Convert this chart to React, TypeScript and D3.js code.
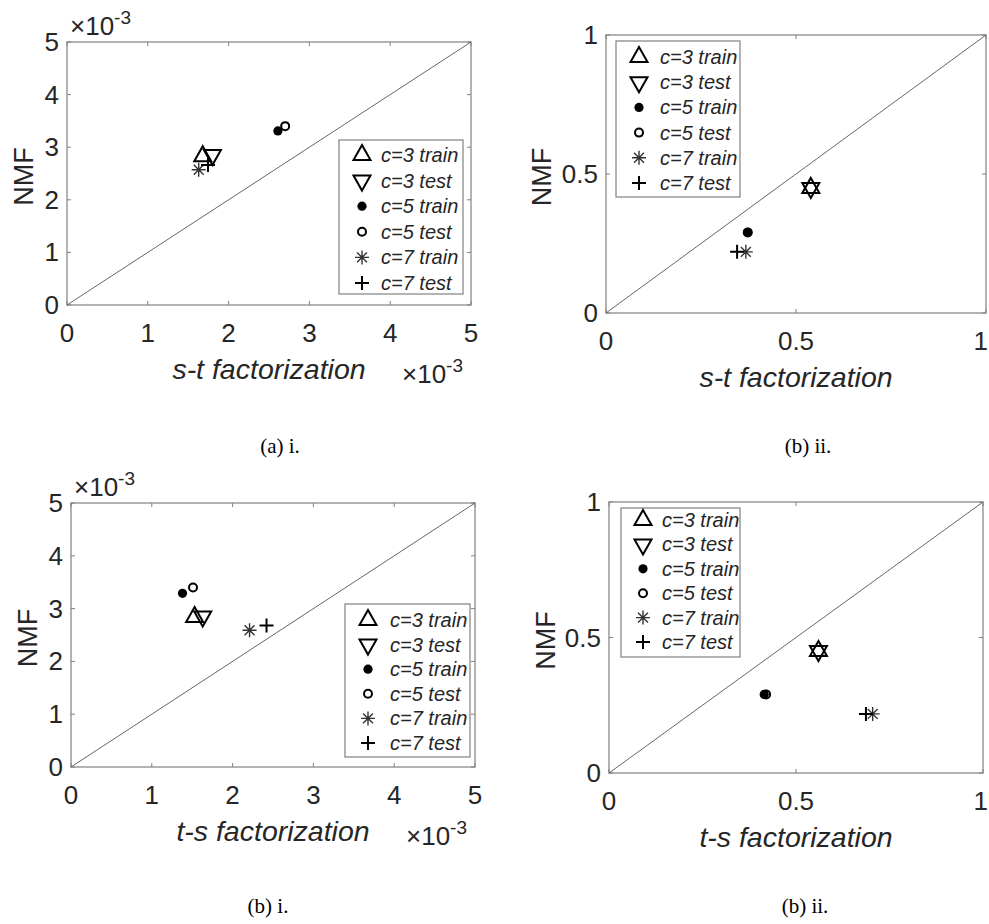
import * as d3 from "d3";

// legend labels, one per series (same order in every panel)
const seriesNames = ["c=3 train", "c=3 test", "c=5 train", "c=5 test", "c=7 train", "c=7 test"];

// (a) i. — values in units of 1e-3
const stX = [1.68, 1.8, 2.61, 2.7, 1.63, 1.745];
const stY = [2.83, 2.85, 3.31, 3.4, 2.57, 2.66];
// (b) ii. top — relative
const stRelX = [0.539, 0.539, 0.373, 0.373, 0.368, 0.345];
const stRelY = [0.45, 0.45, 0.29, 0.29, 0.22, 0.22];
// (b) i. — values in units of 1e-3
const tsX = [1.53, 1.63, 1.38, 1.51, 2.21, 2.42];
const tsY = [2.84, 2.85, 3.29, 3.4, 2.59, 2.68];
// (b) ii. bottom — relative
const tsRelX = [0.56, 0.56, 0.415, 0.42, 0.705, 0.687];
const tsRelY = [0.45, 0.45, 0.29, 0.29, 0.218, 0.218];

const absTicks = [0, 1, 2, 3, 4, 5];
const relTicks = [0, 0.5, 1];

const FONT = "'Liberation Sans', Arial, Helvetica, sans-serif";
const SERIF = "'Liberation Serif', 'Times New Roman', serif";
const AXIS = "#808080";
const TEXT = "#262626";
const PAGE_W = 989;

// marker shape per series index
const SHAPES = ["triUp", "triDown", "dot", "ring", "star", "plus"];

function Marker({ kind, x, y }: { kind: string; x: number; y: number }) {
  // triangles are centred on their centroid, like matlab does
  const h = 15;
  const w = 8.5;
  if (kind === "triUp")
    return <path d={`M${x},${y - (2 * h) / 3}L${x + w},${y + h / 3}L${x - w},${y + h / 3}Z`} fill="none" stroke="#000" strokeWidth={2} />;
  if (kind === "triDown")
    return <path d={`M${x},${y + (2 * h) / 3}L${x + w},${y - h / 3}L${x - w},${y - h / 3}Z`} fill="none" stroke="#000" strokeWidth={2} />;
  if (kind === "dot") return <circle cx={x} cy={y} r={4.6} fill="#000" />;
  if (kind === "ring") return <circle cx={x} cy={y} r={4} fill="none" stroke="#000" strokeWidth={2} />;
  if (kind === "plus")
    return <path d={`M${x - 7},${y}H${x + 7}M${x},${y - 7}V${y + 7}`} stroke="#000" strokeWidth={2} />;
  const r = 7;
  const d = r * 0.7071;
  return (
    <path
      d={`M${x - r},${y}H${x + r}M${x},${y - r}V${y + r}M${x - d},${y - d}L${x + d},${y + d}M${x - d},${y + d}L${x + d},${y - d}`}
      stroke="#333"
      strokeWidth={1.4}
    />
  );
}

interface PanelProps {
  box: { l: number; r: number; t: number; b: number };
  max: number;
  ticks: number[];
  exp: boolean;
  xs: number[];
  ys: number[];
  xLabel: string;
  legend: { l: number; r: number; t: number; b: number; mx: number; tx: number; y0: number; dy: number };
  caption: { text: string; x: number; y: number };
  nmfDx: number;
}

function Panel({ box, max, ticks, exp, xs, ys, xLabel, legend, caption, nmfDx }: PanelProps) {
  const x = d3.scaleLinear().domain([0, max]).range([box.l, box.r]);
  const y = d3.scaleLinear().domain([0, max]).range([box.b, box.t]);
  const fmt = (v: number) => (Number.isInteger(v) ? String(v) : d3.format(".1f")(v));
  const tl = 4;
  return (
    <g>
      <rect x={box.l} y={box.t} width={box.r - box.l} height={box.b - box.t} fill="#fff" stroke={AXIS} strokeWidth={1.2} />
      {ticks.map((t) => {
        // keep the last x label inside the page
        const over = x(t) + 8 > PAGE_W;
        return (
          <g key={"t" + t}>
            <line x1={x(t)} x2={x(t)} y1={box.b} y2={box.b - tl} stroke={AXIS} />
            <line x1={x(t)} x2={x(t)} y1={box.t} y2={box.t + tl} stroke={AXIS} />
            <line x1={box.l} x2={box.l + tl} y1={y(t)} y2={y(t)} stroke={AXIS} />
            <line x1={box.r} x2={box.r - tl} y1={y(t)} y2={y(t)} stroke={AXIS} />
            <text
              x={over ? PAGE_W - 1 : x(t)}
              y={box.b + 37}
              textAnchor={over ? "end" : "middle"}
              fontSize={26}
              fill={TEXT}
              fontFamily={FONT}
            >
              {fmt(t)}
            </text>
            <text x={box.l - 8} y={y(t) + 9} textAnchor="end" fontSize={26} fill={TEXT} fontFamily={FONT}>
              {fmt(t)}
            </text>
          </g>
        );
      })}
      <line x1={x(0)} y1={y(0)} x2={x(max)} y2={y(max)} stroke="#666" strokeWidth={1} />
      {xs.map((v, i) => (
        <Marker key={"m" + i} kind={SHAPES[i]} x={x(v)} y={y(ys[i])} />
      ))}
      <rect x={legend.l} y={legend.t} width={legend.r - legend.l} height={legend.b - legend.t} fill="#fff" stroke={AXIS} strokeWidth={1.2} />
      {seriesNames.map((s, i) => (
        <g key={"l" + i}>
          <Marker kind={SHAPES[i]} x={legend.mx} y={legend.y0 + i * legend.dy} />
          <text x={legend.tx} y={legend.y0 + i * legend.dy + 7} fontSize={20} fontStyle="italic" fill={TEXT} fontFamily={FONT}>
            {s}
          </text>
        </g>
      ))}
      <text x={(box.l + box.r) / 2} y={box.b + 74} textAnchor="middle" fontSize={28.5} fontStyle="italic" fill={TEXT} fontFamily={FONT}>
        {xLabel}
      </text>
      <text
        transform={`translate(${box.l - nmfDx},${(box.t + box.b) / 2 + 3}) rotate(-90)`}
        textAnchor="middle"
        dy={9.5}
        fontSize={27}
        fill={TEXT}
        fontFamily={FONT}
      >
        NMF
      </text>
      {exp && (
        <>
          <text x={box.l + 3} y={box.t - 7} fontSize={26} fill={TEXT} fontFamily={FONT}>
            ×10<tspan dy={-11} fontSize={19}>-3</tspan>
          </text>
          <text x={box.r - 69} y={box.b + 78} fontSize={26} fill={TEXT} fontFamily={FONT}>
            ×10<tspan dy={-11} fontSize={19}>-3</tspan>
          </text>
        </>
      )}
      <text x={caption.x} y={caption.y} textAnchor="middle" fontSize={21} fill="#000" fontFamily={SERIF}>
        {caption.text}
      </text>
    </g>
  );
}

export default function App() {
  return (
    <svg width={989} height={924} style={{ position: "fixed", left: 0, top: 0, background: "#fff" }}>
      <rect width={989} height={924} fill="#fff" />
      <Panel
        box={{ l: 67, r: 471, t: 42, b: 305 }}
        max={5}
        ticks={absTicks}
        exp
        xs={stX}
        ys={stY}
        xLabel="s-t factorization"
        legend={{ l: 339, r: 463, t: 140, b: 294, mx: 362, tx: 381, y0: 155, dy: 25.6 }}
        caption={{ text: "(a) i.", x: 280, y: 453 }}
        nmfDx={44}
      />
      <Panel
        box={{ l: 606, r: 986, t: 35, b: 313 }}
        max={1}
        ticks={relTicks}
        exp={false}
        xs={stRelX}
        ys={stRelY}
        xLabel="s-t factorization"
        legend={{ l: 616, r: 740, t: 41, b: 197, mx: 639, tx: 660, y0: 57, dy: 25.2 }}
        caption={{ text: "(b) ii.", x: 808, y: 453 }}
        nmfDx={65}
      />
      <Panel
        box={{ l: 71, r: 475, t: 503, b: 767 }}
        max={5}
        ticks={absTicks}
        exp
        xs={tsX}
        ys={tsY}
        xLabel="t-s factorization"
        legend={{ l: 345, r: 470, t: 604, b: 757, mx: 368, tx: 390, y0: 620, dy: 24.6 }}
        caption={{ text: "(b) i.", x: 268, y: 913 }}
        nmfDx={44}
      />
      <Panel
        box={{ l: 609, r: 983, t: 502, b: 773 }}
        max={1}
        ticks={relTicks}
        exp={false}
        xs={tsRelX}
        ys={tsRelY}
        xLabel="t-s factorization"
        legend={{ l: 621, r: 740, t: 508, b: 657, mx: 643, tx: 662, y0: 520, dy: 24.4 }}
        caption={{ text: "(b) ii.", x: 805, y: 913 }}
        nmfDx={64}
      />
    </svg>
  );
}
